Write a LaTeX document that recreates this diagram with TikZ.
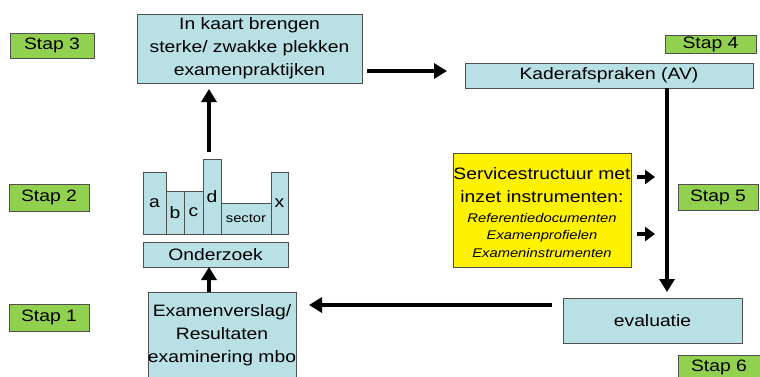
\documentclass[tikz,border=0pt]{standalone}
\usepackage{fontspec}
\setmainfont[FakeStretch=1.17]{Liberation Sans}
\usetikzlibrary{arrows.meta,calc}
\definecolor{lblue}{RGB}{185,224,228}
\definecolor{lgreen}{RGB}{146,208,80}
\definecolor{bord}{RGB}{80,80,80}
\newcommand{\bigf}{\fontsize{16.5}{23}\selectfont}
\newcommand{\smlf}{\fontsize{12.6}{17.5}\selectfont}
\begin{document}
\begin{tikzpicture}[x=1pt,y=-1pt,
  box/.style={draw=bord, line width=0.9pt, fill=lblue, inner sep=0pt, outer sep=0pt, align=center, font=\bigf},
  bar/.style={box},
  stapbox/.style={draw=bord, line width=0.9pt, fill=lgreen, inner sep=0pt, outer sep=0pt, font=\bigf},
  arr/.style={line width=4pt, -{Triangle[length=13pt,width=15pt]}},
  sarr/.style={line width=4pt, -{Triangle[length=10pt,width=14pt]}}]
\useasboundingbox (0,0) rectangle (760,376);
\begin{scope}
\clip (0,0) rectangle (760,376);
% step labels
\node[stapbox, minimum width=84pt, minimum height=25pt] (s3) at (52,45.5) {Stap 3};
\node[stapbox, minimum width=80pt, minimum height=27pt] (s2) at (49,197.5) {Stap 2};
\node[stapbox, minimum width=80pt, minimum height=27pt] (s1) at (49,317.5) {Stap 1};
\node[stapbox, minimum width=91pt, minimum height=18pt] (s4) at (710.5,44) {Stap 4};
\node[stapbox, minimum width=80pt, minimum height=26pt] (s5) at (718,197) {Stap 5};
\node[stapbox, minimum width=82pt, minimum height=25pt] (s6) at (719,367.5) {Stap 6};
% main boxes
\node[box, minimum width=225pt, minimum height=69pt] (top) at (249.5,48.5)
  {In kaart brengen\\ sterke/ zwakke plekken\\ examenpraktijken};
\node[box, minimum width=288pt, minimum height=25pt] (kader) at (609,75.5) {Kaderafspraken (AV)};
\node[box, minimum width=179pt, minimum height=45pt] (eval) at (652.5,320.5) {evaluatie};
\node[box, minimum width=146pt, minimum height=86pt] (exam) at (222,335)
  {Examenverslag/\\ Resultaten\\ examinering mbo};
\node[box, minimum width=145pt, minimum height=25pt] (onder) at (215.5,254.5) {Onderzoek};
% bars
\node[bar, minimum width=23pt, minimum height=62pt] (ba) at (154.5,203) {a};
\node[bar, minimum width=18pt, minimum height=43pt] (bb) at (175,212.5) {b};
\node[bar, minimum width=19pt, minimum height=43pt] (bc) at (193.5,212.5) {c};
\node[bar, minimum width=18pt, minimum height=75pt] (bd) at (212,196.5) {d};
\node[bar, minimum width=50pt, minimum height=31pt, font=\smlf] (bs) at (246,218.5) {sector};
\node[bar, minimum width=17pt, minimum height=62pt] (bx) at (279.5,203) {x};
% yellow box
\node[draw=bord, line width=0.9pt, fill=yellow, inner sep=0pt, outer sep=0pt, minimum width=178pt, minimum height=114pt, align=center, font=\bigf] (yel) at (542,210)
  {\rule{0pt}{22pt}Servicestructuur met\\ inzet instrumenten:\\[-3pt]
   {\smlf\itshape\begin{tabular}[t]{@{}c@{}}Referentiedocumenten\\ Examenprofielen\\ Exameninstrumenten\end{tabular}}};
\end{scope}
% connectors
\draw[arr] ([xshift=5pt,yshift=12pt]top.south east) -- ([xshift=-18pt,yshift=4.5pt]kader.west);
\draw[arr] ($(bd.north)+(-3,-7)$) -- ($(bd.north |- top.south)+(-3,6)$);
\draw[arr] ($(exam.north)+(-13,0)$) -- ($(onder.south)+(-6.5,0)$);
\draw[arr] ($(kader.south)+(58,0)$) -- ($(eval.north)+(14.5,-6)$);
\draw[arr] ($(eval.west)+(-11,-15.5)$) -- ($(exam.east)+(13,-30)$);
\draw[sarr] ($(yel.east)+(6,-33)$) -- ($(yel.east)+(24,-33)$);
\draw[sarr] ($(yel.east)+(6,24)$) -- ($(yel.east)+(24,24)$);
\end{tikzpicture}
\end{document}
